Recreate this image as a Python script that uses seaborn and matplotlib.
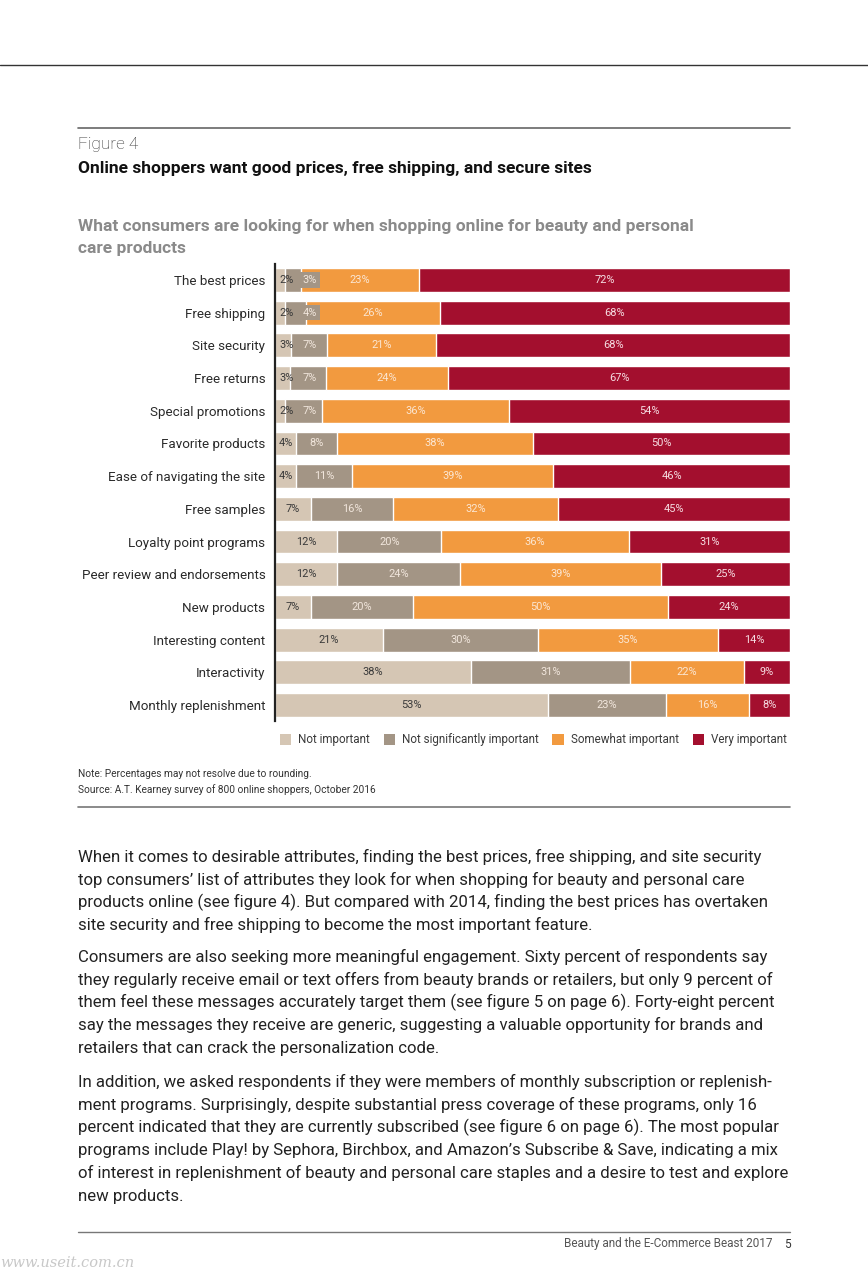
import matplotlib
matplotlib.use("Agg")
import matplotlib.pyplot as plt
from matplotlib.patches import Patch
import seaborn as sns
import pandas as pd
import numpy as np

categories = ["The best prices", "Free shipping", "Site security", "Free returns",
              "Special promotions", "Favorite products", "Ease of navigating the site",
              "Free samples", "Loyalty point programs", "Peer review and endorsements",
              "New products", "Interesting content", "Interactivity", "Monthly replenishment"]
not_important = [2, 2, 3, 3, 2, 4, 4, 7, 12, 12, 7, 21, 38, 53]
not_significant = [3, 4, 7, 7, 7, 8, 11, 16, 20, 24, 20, 30, 31, 23]
somewhat = [23, 26, 21, 24, 36, 38, 39, 32, 36, 39, 50, 35, 22, 16]
very = [72, 68, 68, 67, 54, 50, 46, 45, 31, 25, 24, 14, 9, 8]
series_names = ["Not important", "Not significantly important", "Somewhat important", "Very important"]
colors = ["#D5C6B4", "#A39585", "#F29A3F", "#A30F2E"]
label_colors = ["#3a3a3a", "#F1E6DC", "#FBE6D2", "#F6DDE2"]

title_small = "Figure 4"
title_bold = "Online shoppers want good prices, free shipping, and secure sites"
subtitle = ["What consumers are looking for when shopping online for beauty and personal",
            "care products"]
note = "Note: Percentages may not resolve due to rounding."
source = "Source: A.T. Kearney survey of 800 online shoppers, October 2016"
paragraphs = [
    ["When it comes to desirable attributes, finding the best prices, free shipping, and site security",
     "top consumers\u2019 list of attributes they look for when shopping for beauty and personal care",
     "products online (see figure 4). But compared with 2014, finding the best prices has overtaken",
     "site security and free shipping to become the most important feature."],
    ["Consumers are also seeking more meaningful engagement. Sixty percent of respondents say",
     "they regularly receive email or text offers from beauty brands or retailers, but only 9 percent of",
     "them feel these messages accurately target them (see figure 5 on page 6). Forty-eight percent",
     "say the messages they receive are generic, suggesting a valuable opportunity for brands and",
     "retailers that can crack the personalization code."],
    ["In addition, we asked respondents if they were members of monthly subscription or replenish-",
     "ment programs. Surprisingly, despite substantial press coverage of these programs, only 16",
     "percent indicated that they are currently subscribed (see figure 6 on page 6). The most popular",
     "programs include Play! by Sephora, Birchbox, and Amazon\u2019s Subscribe & Save, indicating a mix",
     "of interest in replenishment of beauty and personal care staples and a desire to test and explore",
     "new products."],
]
footer = "Beauty and the E-Commerce Beast 2017"
page_no = "5"
watermark = "www.useit.com.cn"

sns.set_theme(style="white")
plt.rcParams["font.family"] = ["Roboto", "DejaVu Sans"]

W, H = 868, 1280
fig = plt.figure(figsize=(W / 100, H / 100), dpi=100)
fig.patch.set_facecolor("white")

def fy(px):
    return 1 - px / H

def fx(px):
    return px / W

df = pd.DataFrame({"cat": categories, series_names[0]: not_important,
                   series_names[1]: not_significant, series_names[2]: somewhat,
                   series_names[3]: very})
raw = df[series_names].to_numpy(dtype=float)
share = raw / raw.sum(axis=1, keepdims=True) * 100
cum = np.cumsum(share, axis=1)

n = len(categories)
step = (705 - 280) / (n - 1)
top_px = 280 - step / 2
bot_px = 705 + step / 2
ax = fig.add_axes([fx(275), fy(bot_px), fx(790) - fx(275), (bot_px - top_px) / H])

for i in range(3, -1, -1):
    d = pd.DataFrame({"cat": categories, "v": cum[:, i]})
    sns.barplot(data=d, x="v", y="cat", order=categories, color=colors[i],
                saturation=1, errorbar=None, width=0.73, ax=ax, orient="h")

ax.set_xlim(0, 100)
ax.set_ylim(n - 0.5, -0.5)
ax.set_xlabel("")
ax.set_ylabel("")
ax.set_xticks([])
for s in ["top", "right", "bottom"]:
    ax.spines[s].set_visible(False)
ax.spines["left"].set_color("#222222")
ax.spines["left"].set_linewidth(1.6)
ax.tick_params(axis="y", length=0, pad=7, labelsize=9.6, labelcolor="#2a2a2a")

for r in range(n):
    prev = None
    for i in range(4):
        start = cum[r, i] - share[r, i]
        center = start + share[r, i] / 2
        if prev is None:
            xpos = max(center, 2.2)
        else:
            xpos = max(center, prev + 4.6)
        prev = xpos
        kw = {}
        if i == 1 and share[r, i] < 5:
            kw["bbox"] = dict(boxstyle="square,pad=0.25", fc=colors[i], ec="none")
        ax.text(xpos, r, f"{int(raw[r, i])}%", ha="center", va="center",
                fontsize=7.9, color=label_colors[i], **kw)

handles = [Patch(facecolor=c, edgecolor="none") for c in colors]
fig.legend(handles, series_names, loc="center right",
           bbox_to_anchor=(fx(797), fy(740)), ncol=4, frameon=False,
           fontsize=8.4, handlelength=1.0, handleheight=1.1, handletextpad=0.55,
           columnspacing=1.2, labelcolor="#3a3a3a")

def hline(y, x0, x1, color="#555555", lw=1.0):
    fig.add_artist(plt.Line2D([fx(x0), fx(x1)], [fy(y), fy(y)], color=color, lw=lw))

hline(65, 0, 868, "#333333", 1.0)
hline(128, 78, 790, "#666666", 1.2)
hline(807, 78, 790, "#777777", 1.2)
hline(1232, 78, 790, "#777777", 1.0)

fig.text(fx(78), fy(145), title_small, fontsize=12.4, color="#333333",
         va="center", ha="left", fontweight="light")
fig.text(fx(78), fy(168), title_bold, fontsize=12.5, color="#111111",
         va="center", ha="left", fontweight="bold")
fig.text(fx(78), fy(226), subtitle[0], fontsize=12.5, color="#8a8a8a",
         va="center", ha="left", fontweight="bold")
fig.text(fx(78), fy(248), subtitle[1], fontsize=12.5, color="#8a8a8a",
         va="center", ha="left", fontweight="bold")
fig.text(fx(78), fy(774), note, fontsize=7.3, color="#333333", va="center", ha="left")
fig.text(fx(78), fy(790), source, fontsize=7.3, color="#333333", va="center", ha="left")

para_starts = [857, 957, 1082]
line_gap = 22.8
for p, y0 in zip(paragraphs, para_starts):
    for k, line in enumerate(p):
        fig.text(fx(78), fy(y0 + k * line_gap), line, fontsize=12.1,
                 color="#222222", va="center", ha="left")

fig.text(fx(772), fy(1244), footer, fontsize=8.5, color="#555555", va="center", ha="right")
fig.text(fx(791), fy(1244), page_no, fontsize=8.5, color="#333333", va="center", ha="right")
fig.text(fx(0), fy(1263), watermark, fontsize=10.5, color="#c8c8c8", va="center",
         ha="left", family=["DejaVu Serif"], style="italic")

fig.savefig("out.png", dpi=100, facecolor="white")
